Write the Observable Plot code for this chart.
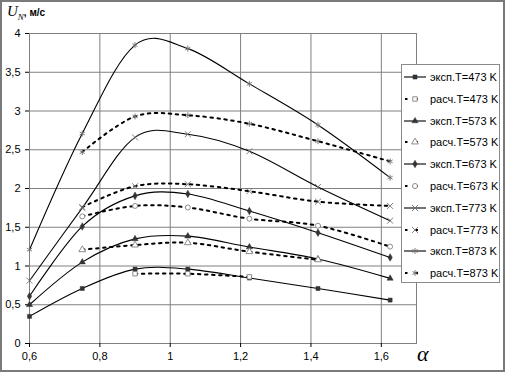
<!DOCTYPE html>
<html><head><meta charset="utf-8">
<script src="https://cdn.jsdelivr.net/npm/d3@7"></script>
<script src="https://cdn.jsdelivr.net/npm/@observablehq/plot@0.6"></script>
<style>
body{margin:0;background:#fff;}
#wrap{position:relative;width:505px;height:372px;overflow:hidden;font-family:"Liberation Sans",Arial,sans-serif;background:#fff}
#wrap svg.main{display:block}
#frame{position:absolute;left:0;top:0;width:505px;height:372px;box-sizing:border-box;border:2px solid #7a7a7a;pointer-events:none}
#legend{position:absolute;left:401px;top:64px;width:99px;height:219px;box-sizing:border-box;border:1px solid #8a8a8a;background:#fff;}
.row{position:absolute;left:1px;height:14px;display:flex;align-items:center;font-size:11px;white-space:nowrap;color:#000}
.row svg{margin-right:3px}
#ylab{position:absolute;left:7px;top:2px;white-space:nowrap}
#ylab .u{font-family:"Liberation Serif","Times New Roman",serif;font-style:italic;font-size:15px}
#ylab .n{font-family:"Liberation Serif","Times New Roman",serif;font-style:italic;font-size:9px;position:relative;top:4px}
#ylab .m{font-family:"Liberation Sans",Arial,sans-serif;font-weight:bold;font-size:10px}
#xlab{position:absolute;left:417px;top:341px;font-family:"Liberation Serif","Times New Roman",serif;font-style:italic;font-size:22px}
</style></head><body><div id="wrap"></div>
<script>
// ---- data ----
const alpha = [0.6, 0.75, 0.9, 1.05, 1.225, 1.42, 1.625];
const exp473  = [0.35, 0.71, 0.96, 0.96, 0.845, 0.71, 0.56];
const calc473 = [null, null, 0.90, 0.90, 0.86, null, null];
const exp573  = [0.50, 1.05, 1.35, 1.385, 1.245, 1.09, 0.84];
const calc573 = [null, 1.21, 1.27, 1.30, 1.185, 1.08, null];
const exp673  = [0.61, 1.51, 1.905, 1.93, 1.71, 1.43, 1.11];
const calc673 = [null, 1.64, 1.775, 1.755, 1.61, 1.52, 1.25];
const exp773  = [0.81, 1.75, 2.66, 2.70, 2.48, 2.02, 1.585];
const calc773 = [null, 1.76, 2.03, 2.055, 1.965, 1.83, 1.775];
const exp873  = [1.21, 2.71, 3.85, 3.805, 3.35, 2.82, 2.14];
const calc873 = [null, 2.47, 2.93, 2.945, 2.835, 2.61, 2.35];
const xTicks = [0.6, 0.8, 1.0, 1.2, 1.4, 1.6];
const yTicks = [0, 0.5, 1, 1.5, 2, 2.5, 3, 3.5, 4];

const series = [
  {name:"эксп.T=473 K", values:exp473, kind:"exp", symbol:"square"},
  {name:"расч.T=473 K", values:calc473, kind:"calc", symbol:"square"},
  {name:"эксп.T=573 K", values:exp573, kind:"exp", symbol:"triangle"},
  {name:"расч.T=573 K", values:calc573, kind:"calc", symbol:"triangle"},
  {name:"эксп.T=673 K", values:exp673, kind:"exp", symbol:"diamond"},
  {name:"расч.T=673 K", values:calc673, kind:"calc", symbol:"circle"},
  {name:"эксп.T=773 K", values:exp773, kind:"exp", symbol:"times"},
  {name:"расч.T=773 K", values:calc773, kind:"calc", symbol:"times"},
  {name:"эксп.T=873 K", values:exp873, kind:"exp", symbol:"asterisk"},
  {name:"расч.T=873 K", values:calc873, kind:"calc", symbol:"asterisk"}
];

const strokeSyms = new Set(["times","asterisk"]);
function dotStyle(s){
  if (strokeSyms.has(s.symbol)) return {fill:"none", stroke:"#707070", strokeWidth:0.9, r:2.8};
  if (s.kind === "exp") return {fill:"#333", stroke:"#333", strokeWidth:0.5, r:2.3};
  return {fill:"#fff", stroke:"#808080", strokeWidth:0.9, r:2.5};
}
function lineStyle(s){
  return s.kind === "exp" ? {stroke:"#000", strokeWidth:1.1} : {stroke:"#000", strokeWidth:2, strokeDasharray:"2.5,4.5"};
}

const fmt = d => String(d).replace(".", ",");
const marks = [
  Plot.gridX(xTicks, {stroke:"#808080", strokeOpacity:1}),
  Plot.gridY(yTicks, {stroke:"#808080", strokeOpacity:1}),
  Plot.frame({stroke:"#808080"}),
  Plot.axisX(xTicks, {tickFormat:fmt, tickSize:4, tickPadding:5, label:null, fontSize:11}),
  Plot.axisY(yTicks, {tickFormat:fmt, tickSize:4, tickPadding:5, label:null, fontSize:11})
];
for (const s of series) {
  const rows = alpha.map((a,i)=>({a, v:s.values[i]})).filter(d=>d.v!=null);
  marks.push(Plot.line(rows, {x:"a", y:"v", curve:"cardinal", tension:0, ...lineStyle(s)}));
}
for (const s of series) {
  const rows = alpha.map((a,i)=>({a, v:s.values[i]})).filter(d=>d.v!=null);
  marks.push(Plot.dot(rows, {x:"a", y:"v", symbol:()=>s.symbol, ...dotStyle(s)}));
}

const chart = Plot.plot({
  width:505, height:372,
  marginLeft:29, marginRight:89, marginTop:33, marginBottom:29,
  style:{fontFamily:"'Liberation Sans', Arial, sans-serif", fontSize:"11px", color:"#000", background:"#fff"},
  x:{domain:[0.6,1.7]},
  y:{domain:[0,4]},
  symbol:{type:"identity"},
  marks
});
chart.classList.add("main");
const wrap = document.getElementById("wrap");
wrap.appendChild(chart);

// y label
const yl = document.createElement("div");
yl.id = "ylab";
yl.innerHTML = '<span class="u">U</span><span class="n">N</span><span class="m">, м/с</span>';
wrap.appendChild(yl);
// x label
const xl = document.createElement("div");
xl.id = "xlab"; xl.textContent = "α";
wrap.appendChild(xl);

// legend
const symMap = {square:d3.symbolSquare, triangle:d3.symbolTriangle, diamond:d3.symbolDiamond, circle:d3.symbolCircle, times:d3.symbolTimes, asterisk:d3.symbolAsterisk};
const lg = document.createElement("div");
lg.id = "legend";
series.forEach((s,i)=>{
  const row = document.createElement("div");
  row.className = "row";
  row.style.top = (5 + i*21.8) + "px";
  const ns = "http://www.w3.org/2000/svg";
  const sv = document.createElementNS(ns, "svg");
  sv.setAttribute("width", 24); sv.setAttribute("height", 10);
  const ln = document.createElementNS(ns, "line");
  const ls = lineStyle(s);
  ln.setAttribute("x1", s.kind==="exp"?1:2); ln.setAttribute("x2", 23); ln.setAttribute("y1",5); ln.setAttribute("y2",5);
  ln.setAttribute("stroke", ls.stroke); ln.setAttribute("stroke-width", ls.strokeWidth);
  if (ls.strokeDasharray) ln.setAttribute("stroke-dasharray", "2.5,8");
  sv.appendChild(ln);
  const ds = dotStyle(s);
  const p = document.createElementNS(ns, "path");
  p.setAttribute("d", d3.symbol(symMap[s.symbol], Math.PI*ds.r*ds.r)());
  p.setAttribute("transform","translate(12,5)");
  p.setAttribute("fill", ds.fill); p.setAttribute("stroke", ds.stroke); p.setAttribute("stroke-width", ds.strokeWidth);
  sv.appendChild(p);
  row.appendChild(sv);
  const t = document.createElement("span"); t.textContent = s.name;
  row.appendChild(t);
  lg.appendChild(row);
});
wrap.appendChild(lg);
const fr = document.createElement("div"); fr.id = "frame"; wrap.appendChild(fr);
</script></body></html>
